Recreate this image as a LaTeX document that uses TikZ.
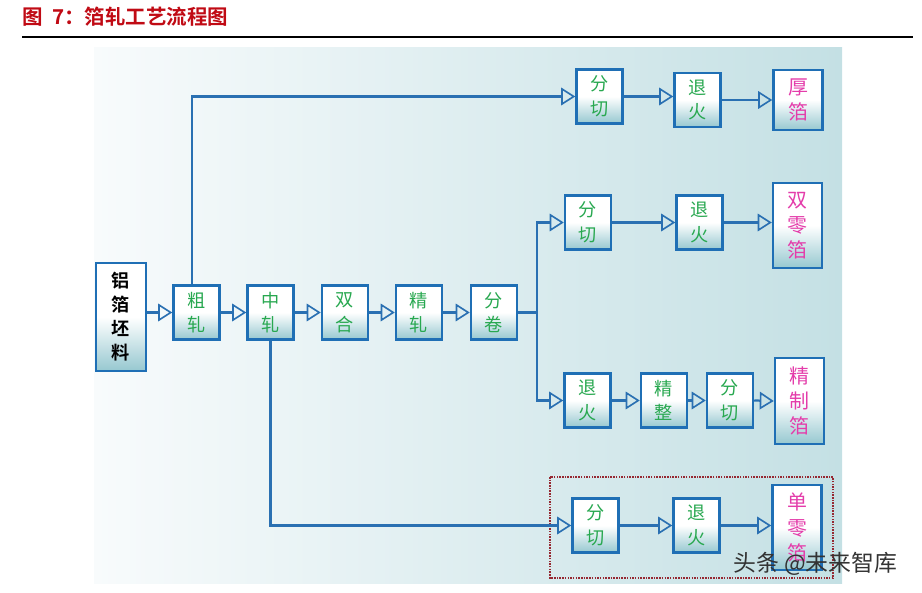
\documentclass[tikz,border=0pt]{standalone}
\usepackage{fontspec}
\setmainfont{Noto Sans CJK SC}
\newfontfamily\cjkbold{Noto Sans CJK SC Bold}
\usepackage{tikz}
\usetikzlibrary{calc}
\usetikzlibrary{arrows.meta}
\usetikzlibrary{positioning}
\usepackage{color}
\definecolor{panelleft}{RGB}{248, 251, 252}
\definecolor{panelright}{RGB}{196, 224, 228}
\definecolor{boxline}{RGB}{31, 111, 181}
\definecolor{flowline}{RGB}{42, 112, 178}
\definecolor{boxteal}{RGB}{150, 200, 208}
\definecolor{stepgreen}{RGB}{40, 168, 80}
\definecolor{prodpink}{RGB}{228, 60, 170}
\definecolor{titlered}{RGB}{192, 10, 20}
\definecolor{dotred}{RGB}{150, 40, 50}

\tikzset{
    stepbox/.style={draw=boxline, line width=2.1pt, top color=white, bottom color=boxteal, middle color=white,
                    minimum width=1.38cm, minimum height=1.62cm, inner sep=0pt, align=center,
                    font=\fontsize{15.5}{21}\selectfont, text=stepgreen},
    prodbox/.style={stepbox, minimum width=1.47cm, font=\fontsize{17}{21.5}\selectfont, text=prodpink},
    flow/.style={draw=flowline, line width=1.9pt,
                 -{Triangle[open, length=12pt, width=15pt, line width=1.4pt]}},
    link/.style={draw=flowline, line width=1.9pt}
}

\begin{document}
\begin{tikzpicture}[x=0.03cm, y=-0.03cm]
            \useasboundingbox (0, 0) rectangle (922, 593);
            % Title & rule
            \node[anchor=west, inner sep=0pt, text=titlered, font=\cjkbold\fontsize{17.5}{17.5}\selectfont] (title) at (22, 17) {图\ \ 7：箔轧工艺流程图};
            \draw[line width=1.8pt]                                           (22, 37) -- (913, 37);
            % Panel
            \shade[left color=panelleft, right color=panelright]              (94, 48) rectangle (842, 583);
            % Main line
            \node[stepbox, minimum width=1.5cm, minimum height=3.24cm, text=black, font=\cjkbold\fontsize{15.5}{20.5}\selectfont]
                                             (raw)   at (121.0, 317.0) {铝\\箔\\坯\\料};
            \node[stepbox]                   (rough) at (196.5, 312.5) {粗\\轧};
            \node[stepbox]                   (mid)   at (270.5, 312.5) {中\\轧};
            \node[stepbox]                   (dbl)   at (345.0, 312.5) {双\\合};
            \node[stepbox]                   (fine)  at (419.0, 312.5) {精\\轧};
            \node[stepbox]                   (split) at (494.0, 312.5) {分\\卷};
            % Thick foil
            \node[stepbox]                   (cuta)  at (599.5,  96.5) {分\\切};
            \node[stepbox]                   (anna)  at (697.5, 100.0) {退\\火};
            \node[prodbox, minimum height=1.8cm]  (thick) at (798.0, 100.0) {厚\\箔};
            % Double zero foil
            \node[stepbox]                   (cutb)  at (588.0, 222.5) {分\\切};
            \node[stepbox]                   (annb)  at (699.5, 222.5) {退\\火};
            \node[prodbox, minimum height=2.55cm] (dzero) at (797.5, 225.5) {双\\零\\箔};
            % Refined foil
            \node[stepbox]                   (annc)  at (587.5, 400.5) {退\\火};
            \node[stepbox]                   (trim)  at (664.0, 400.5) {精\\整};
            \node[stepbox]                   (cutc)  at (730.0, 400.5) {分\\切};
            \node[prodbox, minimum height=2.58cm] (refin) at (799.5, 401.0) {精\\制\\箔};
            % Single zero foil
            \node[stepbox]                   (cutd)  at (595.5, 525.5) {分\\切};
            \node[stepbox]                   (annd)  at (696.5, 525.5) {退\\火};
            \node[prodbox, minimum height=2.55cm] (szero) at (797.0, 527.5) {单\\零\\箔};
            \draw[dotred, line width=1.3pt, densely dotted]                   (550, 477) rectangle (833, 578);
            % Connectors
            \coordinate (fork) at (537, 312.5);
            \draw[flow] (rough.west -| raw.east) -- (rough.west);
            \draw[flow] (rough.east) -- (mid.west);
            \draw[flow] (mid.east)   -- (dbl.west);
            \draw[flow] (dbl.east)   -- (fine.west);
            \draw[flow] (fine.east)  -- (split.west);
            \draw[link] (split.east) -- (fork);
            \draw[flow] (fork) |- (cutb.west);
            \draw[flow] (fork) |- (annc.west);
            \draw[flow] ($(rough.north)+(-4.5,0)$) |- (cuta.west);
            \draw[flow] (mid.south) |- (cutd.west);
            \draw[flow] (cuta.east) -- (cuta.east -| anna.west);
            \draw[flow] (anna.east) -- (thick.west);
            \draw[flow] (cutb.east) -- (annb.west);
            \draw[flow] (annb.east) -- (annb.east -| dzero.west);
            \draw[flow] (annc.east) -- (trim.west);
            \draw[flow] (trim.east) -- (cutc.west);
            \draw[flow] (cutc.east) -- (refin.west);
            \draw[flow] (cutd.east) -- (annd.west);
            \draw[flow] (annd.east) -- (annd.east -| szero.west);
            % Watermark
            \node[anchor=west, inner sep=0pt, text=black!80, font=\fontsize{19.5}{19.5}\selectfont] (mark) at (733, 564) {头条 @未来智库};
        \end{tikzpicture}
\end{document}
